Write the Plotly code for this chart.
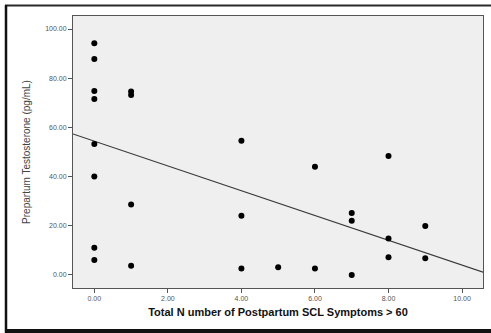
import plotly.graph_objects as go
import numpy as np

# Data
symptoms = [0, 0, 0, 0, 0, 0, 0, 0,
            1, 1, 1, 1,
            4, 4, 4,
            5,
            6, 6,
            7, 7, 7,
            8, 8, 8,
            9, 9]
testosterone = [94.2, 87.8, 74.8, 71.5, 53.3, 40.0, 11.1, 6.1,
                74.6, 73.2, 28.7, 3.7,
                54.6, 24.1, 2.6,
                3.1,
                44.0, 2.6,
                25.2, 22.0, 0.0,
                48.4, 14.8, 7.2,
                19.9, 6.8]

# Fit line parameters as drawn in the chart
fit_intercept = 54.4
fit_slope = -5.04

x_tick_vals = [0, 2, 4, 6, 8, 10]
y_tick_vals = [0, 20, 40, 60, 80, 100]
x_range = [-0.58, 10.57]
y_range = [-5.3, 105.3]

fit_x = np.array(x_range)
fit_y = fit_intercept + fit_slope * fit_x

fig = go.Figure()
fig.add_trace(go.Scatter(
    x=fit_x, y=fit_y, mode="lines",
    line=dict(color="#3a3a3a", width=1.2),
    hoverinfo="skip", showlegend=False))
fig.add_trace(go.Scatter(
    x=symptoms, y=testosterone, mode="markers",
    marker=dict(color="black", size=6),
    showlegend=False))

axis_common = dict(
    showgrid=False, zeroline=False, showline=True, linecolor="#555555",
    linewidth=1, mirror=True, ticks="outside", ticklen=4, tickwidth=1,
    tickcolor="#555555", tickformat=".2f",
    tickfont=dict(family="Arial, Liberation Sans", size=7, color="#555555"),
)

fig.update_xaxes(range=x_range, tickvals=x_tick_vals, **axis_common,
                 title=dict(text="<b>Total N umber of Postpartum SCL Symptoms > 60</b>",
                            font=dict(family="Arial, Liberation Sans", size=11, color="#111111"),
                            standoff=6))
fig.update_yaxes(range=y_range, tickvals=y_tick_vals, **axis_common,
                 title=dict(text="Prepartum Testosterone (pg/mL)",
                            font=dict(family="Arial, Liberation Sans", size=10, color="#444444"),
                            standoff=12))

W_PLOT = 410.0
H_PLOT = 272.0
PL, PB = 73.0, 288.0


def px(p):
    return (p - PL) / W_PLOT


def py(q):
    return (PB - q) / H_PLOT


frame = [
    # top
    dict(type="line", xref="paper", yref="paper", x0=px(5), x1=px(500),
         y0=py(5.5), y1=py(5.5), line=dict(color="#2a2a2a", width=2)),
    # left
    dict(type="line", xref="paper", yref="paper", x0=px(6), x1=px(6),
         y0=py(5), y1=py(333), line=dict(color="#111111", width=2.5)),
    # bottom
    dict(type="line", xref="paper", yref="paper", x0=px(5), x1=px(500),
         y0=py(331), y1=py(331), line=dict(color="#111111", width=4)),
]

fig.update_layout(
    width=491, height=333,
    margin=dict(l=73, r=8, t=16, b=45),
    paper_bgcolor="white",
    plot_bgcolor="#efefef",
    shapes=frame,
)

fig.write_html("out.html", config={"displayModeBar": False},
               post_script="document.body.style.margin='0px';document.body.style.overflow='hidden';")
